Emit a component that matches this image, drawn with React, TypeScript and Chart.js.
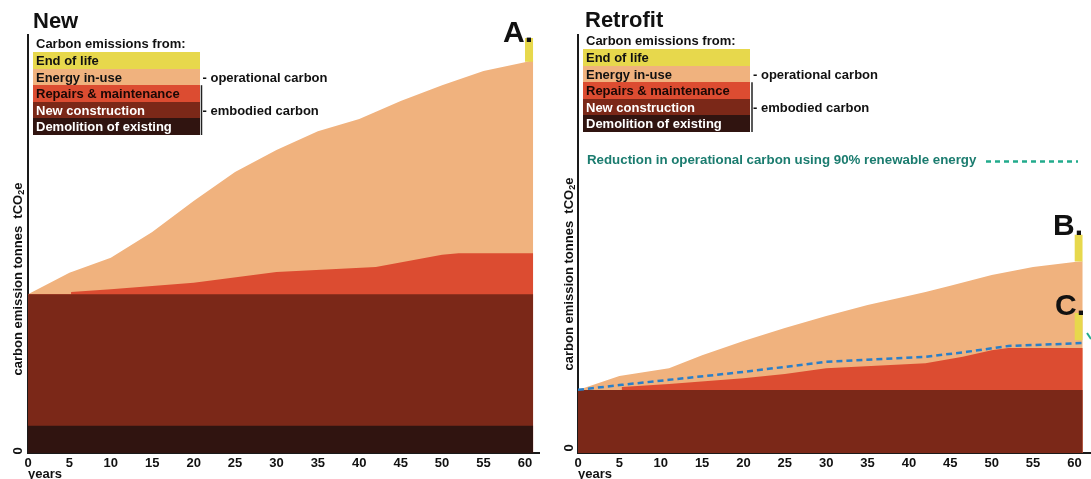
import React, { useEffect, useRef } from "react";
import { Chart, registerables } from "chart.js";

Chart.register(...registerables);

// ---------- DATA ----------
const xTickValues = [0, 5, 10, 15, 20, 25, 30, 35, 40, 45, 50, 55, 60];

// New build (cumulative tops of each stacked layer)
const newEnergyYears = [0, 5, 10, 15, 20, 25, 30, 35, 40, 45, 50, 55, 60, 61];
const newEnergyTop = [38.0, 43.1, 46.7, 52.9, 60.3, 67.2, 72.5, 77.0, 79.9, 84.2, 88.0, 91.4, 93.5, 94.0];
const newRepairsYears = [0, 5.2, 5.2, 10, 20, 30, 42, 50, 52, 61];
const newRepairsTop = [38.0, 38.0, 38.5, 39.2, 40.7, 43.3, 44.5, 47.4, 47.8, 47.8];
const newConstructionYears = [0, 61];
const newConstructionTop = [38.0, 38.0];
const newDemolitionYears = [0, 61];
const newDemolitionTop = [6.5, 6.5];
const newEndOfLifeYears = [60, 61];
const newEndOfLifeBase = 93.6;
const newEndOfLifeTop = [99.3, 99.3];

// Retrofit
const retEnergyYears = [0, 5, 11, 15, 20, 25, 30, 35, 40, 42, 45, 50, 55, 60, 61];
const retEnergyTop = [15.1, 18.4, 20.3, 23.4, 26.8, 29.9, 32.8, 35.4, 37.6, 38.5, 40.0, 42.6, 44.5, 45.7, 45.9];
const retRepairsYears = [0, 5.3, 5.3, 11, 20, 25, 30, 42, 46.5, 50, 52, 61];
const retRepairsTop = [15.1, 15.1, 15.8, 16.5, 17.9, 18.9, 20.3, 21.5, 23.0, 24.6, 25.1, 25.1];
const retConstructionYears = [0, 61];
const retConstructionTop = [15.1, 15.1];
const retReducedYears = [0, 5.3, 11, 20, 30, 42, 47, 52, 61];
const retReducedOperational = [15.1, 16.3, 17.5, 19.4, 21.8, 23.0, 24.2, 25.6, 26.3];
const retEndOfLifeBYears = [60, 61];
const retEndOfLifeBBase = 45.8;
const retEndOfLifeBTop = [52.2, 52.2];
const retEndOfLifeCYears = [60, 61];
const retEndOfLifeCBase = 27.0;
const retEndOfLifeCTop = [33.5, 33.5];

const legendLabels = [
  "End of life",
  "Energy in-use",
  "Repairs & maintenance",
  "New construction",
  "Demolition of existing",
];

// ---------- STYLE ----------
const YELLOW = "#e7d84c";
const ENERGY = "#f0b27e";
const REPAIRS = "#dc4c31";
const NEWCON = "#7b2818";
const DEMO = "#301410";
const BLUE = "#2a7fc8";
const TEAL_TEXT = "#1b7c6f";
const TEAL_LINE = "#22ab8c";
const AXIS = "#1a1a1a";
const FONT = '"Liberation Sans", Arial, Helvetica, sans-serif';
const H = 481;

const legendColors = [YELLOW, ENERGY, REPAIRS, NEWCON, DEMO];
const legendTextColors = ["#111", "#111", "#1a0805", "#ffffff", "#ffffff"];

const pts = (xs: number[], ys: number[]) => xs.map((x, i) => ({ x, y: ys[i] }));

function area(data: any, color: string, fill: any = "origin") {
  return {
    data,
    backgroundColor: color,
    borderColor: color,
    borderWidth: 0,
    pointRadius: 0,
    tension: 0,
    fill,
  };
}

function txt(ctx: CanvasRenderingContext2D, s: string, x: number, y: number, size: number, color = "#111", align: CanvasTextAlign = "left") {
  ctx.font = `bold ${size}px ${FONT}`;
  ctx.fillStyle = color;
  ctx.textAlign = align;
  ctx.textBaseline = "alphabetic";
  ctx.fillText(s, x, y);
}

function drawLegend(ctx: CanvasRenderingContext2D, x: number, headBase: number, top: number, bx: number, opBase: number, emBase: number) {
  txt(ctx, "Carbon emissions from:", x + 3, headBase, 13);
  const rowH = 16.6;
  const w = 167;
  legendLabels.forEach((lab, i) => {
    const ry = top + i * rowH;
    ctx.fillStyle = legendColors[i];
    ctx.fillRect(x, Math.round(ry), w, Math.round(ry + rowH) - Math.round(ry));
    txt(ctx, lab, x + 3, ry + 13, 13, legendTextColors[i]);
  });
  ctx.strokeStyle = "#222";
  ctx.lineWidth = 1.5;
  ctx.beginPath();
  ctx.moveTo(bx, top + 2 * rowH);
  ctx.lineTo(bx, top + 5 * rowH);
  ctx.stroke();
  txt(ctx, "- operational carbon", bx + 1, opBase, 13);
  txt(ctx, "- embodied carbon", bx + 1, emBase, 13);
}

function drawYTitle(ctx: CanvasRenderingContext2D, baseX: number, centerY: number) {
  ctx.save();
  ctx.translate(baseX, centerY);
  ctx.rotate(-Math.PI / 2);
  ctx.font = `bold 13px ${FONT}`;
  const p1 = "carbon emission tonnes  tCO";
  const p3 = "e";
  const w1 = ctx.measureText(p1).width;
  const w3 = ctx.measureText(p3).width;
  ctx.font = `bold 9px ${FONT}`;
  const w2 = ctx.measureText("2").width;
  const total = w1 + w2 + w3;
  let cx = -total / 2;
  ctx.textBaseline = "alphabetic";
  ctx.textAlign = "left";
  ctx.fillStyle = "#111";
  ctx.font = `bold 13px ${FONT}`;
  ctx.fillText(p1, cx, 0);
  cx += w1;
  ctx.font = `bold 9px ${FONT}`;
  ctx.fillText("2", cx, 2);
  cx += w2;
  ctx.font = `bold 13px ${FONT}`;
  ctx.fillText(p3, cx, 0);
  ctx.restore();
}

function drawRotatedZero(ctx: CanvasRenderingContext2D, baseX: number, centerY: number) {
  ctx.save();
  ctx.translate(baseX, centerY);
  ctx.rotate(-Math.PI / 2);
  ctx.font = `bold 13px ${FONT}`;
  ctx.textAlign = "center";
  ctx.textBaseline = "alphabetic";
  ctx.fillStyle = "#111";
  ctx.fillText("0", 0, 0);
  ctx.restore();
}

function scales(xMax: number) {
  return {
    x: {
      type: "linear",
      min: 0,
      max: xMax,
      grid: { display: false, drawTicks: false },
      border: { display: true, color: AXIS, width: 2 },
      afterBuildTicks: (s: any) => {
        s.ticks = xTickValues.map((v) => ({ value: v }));
      },
      ticks: {
        autoSkip: false,
        maxRotation: 0,
        minRotation: 0,
        padding: 3,
        color: "#111",
        font: { family: FONT, size: 13, weight: "bold" },
        callback: (v: any) => String(v),
      },
      title: {
        display: true,
        text: "years",
        align: "start",
        color: "#111",
        font: { family: FONT, size: 13, weight: "bold", lineHeight: 1 },
        padding: { top: 0, bottom: 0 },
      },
      afterFit: (s: any) => {
        s.height = H - 453;
      },
    },
    y: {
      type: "linear",
      min: 0,
      max: 100,
      grid: { display: false, drawTicks: false },
      border: { display: true, color: AXIS, width: 2 },
      ticks: { display: false },
      afterFit: (s: any) => {
        s.width = 0;
      },
    },
  };
}

function newConfig(): any {
  const plugin = {
    id: "newDecor",
    afterDraw(chart: any) {
      const ctx = chart.ctx as CanvasRenderingContext2D;
      txt(ctx, "New", 33, 28, 22);
      drawLegend(ctx, 33, 48, 52, 201.5, 82, 115);
      txt(ctx, "A.", 503, 42, 30);
      drawYTitle(ctx, 22, 279);
      drawRotatedZero(ctx, 22, chart.scales.y.getPixelForValue(0) - 2);
    },
  };
  return {
    type: "line",
    data: {
      datasets: [
        area(pts(newEndOfLifeYears, newEndOfLifeTop), YELLOW, { value: newEndOfLifeBase }),
        area(pts(newDemolitionYears, newDemolitionTop), DEMO),
        area(pts(newConstructionYears, newConstructionTop), NEWCON),
        area(pts(newRepairsYears, newRepairsTop), REPAIRS),
        area(pts(newEnergyYears, newEnergyTop), ENERGY),
      ],
    },
    options: {
      responsive: false,
      animation: false,
      devicePixelRatio: 1,
      layout: { padding: { left: 28, right: 6, top: 35, bottom: 0 } },
      plugins: { legend: { display: false }, tooltip: { enabled: false } },
      scales: scales(61.7),
    },
    plugins: [plugin],
  };
}

function retConfig(): any {
  const OX = 545;
  const plugin = {
    id: "retDecor",
    afterDraw(chart: any) {
      const ctx = chart.ctx as CanvasRenderingContext2D;
      txt(ctx, "Retrofit", 585 - OX, 27, 22);
      drawLegend(ctx, 583 - OX, 45, 49, 752 - OX, 79, 112);
      txt(ctx, "Reduction in operational carbon using 90% renewable energy", 587 - OX, 164, 13.3, TEAL_TEXT);
      ctx.save();
      ctx.strokeStyle = TEAL_LINE;
      ctx.lineWidth = 2.5;
      ctx.setLineDash([5, 4]);
      ctx.beginPath();
      ctx.moveTo(986 - OX, 161.5);
      ctx.lineTo(1078 - OX, 161.5);
      ctx.stroke();
      ctx.setLineDash([]);
      ctx.lineWidth = 2;
      ctx.beginPath();
      ctx.moveTo(1087 - OX, 333);
      ctx.lineTo(1091 - OX, 339);
      ctx.stroke();
      ctx.restore();
      txt(ctx, "B.", 1053 - OX, 235, 30);
      txt(ctx, "C.", 1055 - OX, 315, 30);
      drawYTitle(ctx, 573 - OX, 274);
      drawRotatedZero(ctx, 573 - OX, chart.scales.y.getPixelForValue(0) - 5);
    },
  };
  return {
    type: "line",
    data: {
      datasets: [
        {
          data: pts(retReducedYears, retReducedOperational),
          borderColor: BLUE,
          borderWidth: 2.5,
          borderDash: [6, 4],
          pointRadius: 0,
          tension: 0,
          fill: false,
        },
        area(pts(retEndOfLifeBYears, retEndOfLifeBTop), YELLOW, { value: retEndOfLifeBBase }),
        area(pts(retEndOfLifeCYears, retEndOfLifeCTop), YELLOW, { value: retEndOfLifeCBase }),
        area(pts(retConstructionYears, retConstructionTop), NEWCON),
        area(pts(retRepairsYears, retRepairsTop), REPAIRS),
        area(pts(retEnergyYears, retEnergyTop), ENERGY),
      ],
    },
    options: {
      responsive: false,
      animation: false,
      devicePixelRatio: 1,
      layout: { padding: { left: 33, right: 0, top: 35, bottom: 0 } },
      plugins: { legend: { display: false }, tooltip: { enabled: false } },
      scales: scales(62),
    },
    plugins: [plugin],
  };
}

function Panel({ left, width, make }: { left: number; width: number; make: () => any }) {
  const ref = useRef<HTMLCanvasElement>(null);
  useEffect(() => {
    const chart = new Chart(ref.current as HTMLCanvasElement, make());
    return () => chart.destroy();
  }, []);
  return (
    <canvas
      ref={ref}
      width={width}
      height={H}
      style={{ position: "absolute", left, top: 0, width, height: H, display: "block" }}
    />
  );
}

export default function App() {
  return (
    <div
      style={{
        position: "fixed",
        left: 0,
        top: 0,
        width: 1091,
        height: 479,
        overflow: "hidden",
        background: "#ffffff",
      }}
    >
      <Panel left={0} width={545} make={newConfig} />
      <Panel left={545} width={546} make={retConfig} />
    </div>
  );
}
